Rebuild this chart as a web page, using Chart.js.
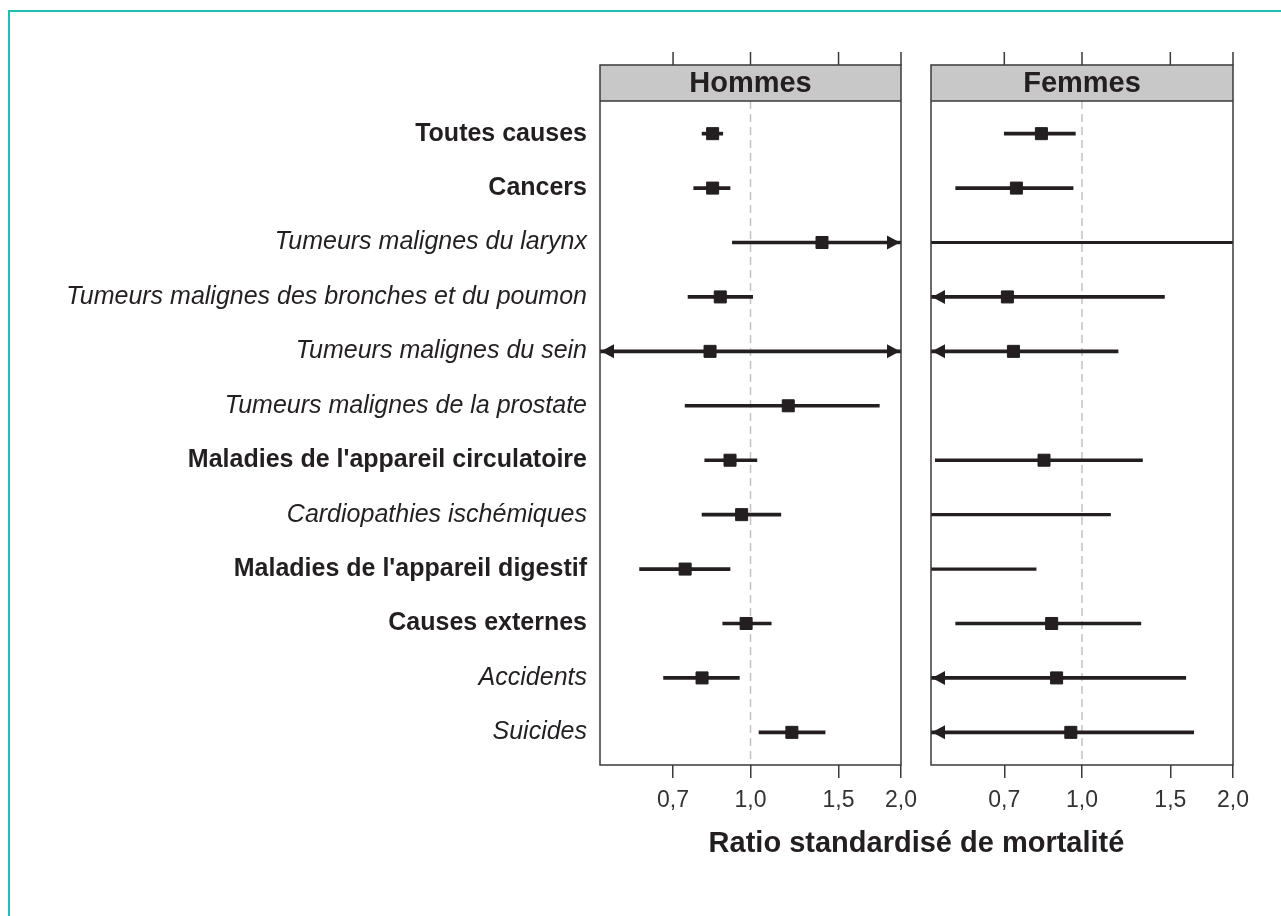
<!DOCTYPE html>
<html>
<head>
<meta charset="utf-8">
<script src="https://cdn.jsdelivr.net/npm/chart.js@4"></script>
<style>
  body { margin: 0; background: #fff; }
  #page { position: relative; width: 1281px; height: 916px; overflow: hidden; }
  #frame { position: absolute; left: 8px; top: 10px; width: 1300px; height: 950px;
           border-left: 2px solid #1fbfae; border-top: 2px solid #1fbfae; }
  canvas { position: absolute; left: 0; top: 0; }
  #xtitle { position: absolute; left: 600px; width: 633px; top: 826px; text-align: center;
            font: bold 29px "Liberation Sans", Arial, sans-serif; color: #231f20; }
</style>
</head>
<body>
<div id="page">
  <div id="frame"></div>
  <canvas id="left" width="1281" height="916"></canvas>
  <canvas id="right" width="1281" height="916"></canvas>
  <div id="xtitle">Ratio standardisé de mortalité</div>
</div>
<script>
// categories (top to bottom)
const categories = [
  'Toutes causes',
  'Cancers',
  'Tumeurs malignes du larynx',
  'Tumeurs malignes des bronches et du poumon',
  'Tumeurs malignes du sein',
  'Tumeurs malignes de la prostate',
  "Maladies de l'appareil circulatoire",
  'Cardiopathies ischémiques',
  "Maladies de l'appareil digestif",
  'Causes externes',
  'Accidents',
  'Suicides'
];
const boldRows = [true, true, false, false, false, false, true, false, true, true, false, false];

// Hommes : SMR and confidence interval
const hommesSmr  = [0.84, 0.84, 1.39, 0.87, 0.83, 1.19, 0.91, 0.96, 0.74, 0.98, 0.80, 1.21];
const hommesLow  = [0.80, 0.77, 0.92, 0.75, 0.30, 0.74, 0.81, 0.80, 0.60, 0.88, 0.67, 1.04];
const hommesHigh = [0.88, 0.91, 3.20, 1.01, 4.50, 1.81, 1.03, 1.15, 0.91, 1.10, 0.95, 1.41];

// Femmes (null = no estimate)
const femmesSmr  = [0.83, 0.74, null, 0.71, 0.73, null, 0.84, null, null, 0.87, 0.89, 0.95];
const femmesLow  = [0.70, 0.56, 0.05, 0.30, 0.30, null, 0.51, 0.05, 0.05, 0.56, 0.30, 0.30];
const femmesHigh = [0.97, 0.96, 5.00, 1.46, 1.18, null, 1.32, 1.14, 0.81, 1.31, 1.61, 1.67];

const xTicks = [0.7, 1.0, 1.5, 2.0];
const xMin = 0.5, xMax = 2.0;

const INK = '#231f20';
const FRAME = '#3a3a3a';
const STRIP_TOP = 65;

// dashed line at 1, strip, frame, arrows, top ticks
const panelDeco = {
  id: 'panelDeco',
  beforeDatasetsDraw(chart, args, opts) {
    const { ctx, chartArea: a, scales: { x } } = chart;
    const px = x.getPixelForValue(1);
    ctx.save();
    ctx.strokeStyle = '#c2c2c2';
    ctx.lineWidth = 1.5;
    ctx.setLineDash([8, 5]);
    ctx.beginPath();
    ctx.moveTo(px, a.top);
    ctx.lineTo(px, a.bottom);
    ctx.stroke();
    ctx.restore();
  },
  afterDatasetsDraw(chart, args, opts) {
    const { ctx, chartArea: a, scales: { x, y } } = chart;
    ctx.save();
    // arrows for intervals that leave the axis
    ctx.fillStyle = INK;
    opts.smr.forEach((v, i) => {
      if (v == null) return;
      const py = y.getPixelForValue(i + 1);
      if (opts.low[i] < xMin) {
        ctx.beginPath();
        ctx.moveTo(a.left + 1, py);
        ctx.lineTo(a.left + 14, py - 7);
        ctx.lineTo(a.left + 14, py + 7);
        ctx.closePath();
        ctx.fill();
      }
      if (opts.high[i] > xMax) {
        ctx.beginPath();
        ctx.moveTo(a.right - 1, py);
        ctx.lineTo(a.right - 14, py - 7);
        ctx.lineTo(a.right - 14, py + 7);
        ctx.closePath();
        ctx.fill();
      }
    });
    // strip
    ctx.fillStyle = '#c8c8c8';
    ctx.fillRect(a.left, STRIP_TOP, a.right - a.left, a.top - STRIP_TOP);
    ctx.strokeStyle = FRAME;
    ctx.lineWidth = 1.5;
    ctx.strokeRect(a.left, STRIP_TOP, a.right - a.left, a.bottom - STRIP_TOP);
    ctx.beginPath();
    ctx.moveTo(a.left, a.top);
    ctx.lineTo(a.right, a.top);
    ctx.stroke();
    // top ticks
    ctx.beginPath();
    xTicks.forEach(t => {
      const px = x.getPixelForValue(t);
      ctx.moveTo(px, STRIP_TOP - 13);
      ctx.lineTo(px, STRIP_TOP);
    });
    ctx.stroke();
    // strip title
    ctx.fillStyle = INK;
    ctx.font = 'bold 29px "Liberation Sans", Arial, sans-serif';
    ctx.textAlign = 'center';
    ctx.textBaseline = 'middle';
    ctx.fillText(opts.title, (a.left + a.right) / 2, (STRIP_TOP + a.top) / 2 + 1);
    ctx.restore();
  }
};

function buildPanel(canvasId, title, smr, low, high, padding, showLabels) {
  const withPoint = [], noPoint = [], points = [];
  smr.forEach((v, i) => {
    if (low[i] == null) return;
    const d = { x: [low[i], high[i]], y: i + 1 };
    if (v == null) noPoint.push(d); else { withPoint.push(d); points.push({ x: v, y: i + 1 }); }
  });

  return new Chart(document.getElementById(canvasId), {
    type: 'bar',
    data: {
      datasets: [
        { type: 'scatter', data: points, pointStyle: 'rect', pointRadius: 8.5,
          backgroundColor: INK, borderColor: INK, borderWidth: 1, order: 1 },
        { data: withPoint, backgroundColor: INK, barThickness: 3, grouped: false, order: 2 },
        { data: noPoint, backgroundColor: INK, barThickness: 2.5, grouped: false, order: 2 }
      ]
    },
    options: {
      indexAxis: 'y',
      responsive: false,
      animation: false,
      events: [],
      layout: { padding: padding },
      plugins: {
        legend: { display: false },
        tooltip: { enabled: false },
        panelDeco: { title: title, smr: smr, low: low, high: high }
      },
      scales: {
        x: {
          type: 'logarithmic',
          min: xMin,
          max: xMax,
          afterBuildTicks: s => { s.ticks = xTicks.map(v => ({ value: v })); },
          afterFit: s => { s.height = 60; },
          border: { display: false },
          grid: { drawOnChartArea: false, drawTicks: true, tickLength: 13, color: FRAME, lineWidth: 1.5 },
          ticks: {
            color: '#333',
            padding: 9,
            maxRotation: 0,
            font: { family: '"Liberation Sans Narrow", "Arial Narrow", "Liberation Sans", sans-serif', size: 23 },
            callback: v => v.toFixed(1).replace('.', ',')
          }
        },
        y: {
          type: 'linear',
          display: showLabels,
          offset: false,
          reverse: true,
          min: 0.4,
          max: 12.6,
          afterBuildTicks: s => { s.ticks = categories.map((c, i) => ({ value: i + 1 })); },
          afterFit: s => { if (showLabels) s.width = 600; },
          border: { display: false },
          grid: { display: false, drawTicks: false, offset: false },
          ticks: {
            color: INK,
            padding: 13,
            autoSkip: false,
            callback: v => categories[v - 1],
            font: c => ({
              family: '"Liberation Sans", Arial, sans-serif',
              size: 25,
              weight: boldRows[c.index] ? 'bold' : 'normal',
              style: boldRows[c.index] ? 'normal' : 'italic'
            })
          }
        }
      }
    },
    plugins: [panelDeco]
  });
}

buildPanel('left', 'Hommes', hommesSmr, hommesLow, hommesHigh,
  { top: 101, bottom: 91, left: 0, right: 380 }, true);
buildPanel('right', 'Femmes', femmesSmr, femmesLow, femmesHigh,
  { top: 101, bottom: 91, left: 931, right: 48 }, false);
</script>
</body>
</html>
